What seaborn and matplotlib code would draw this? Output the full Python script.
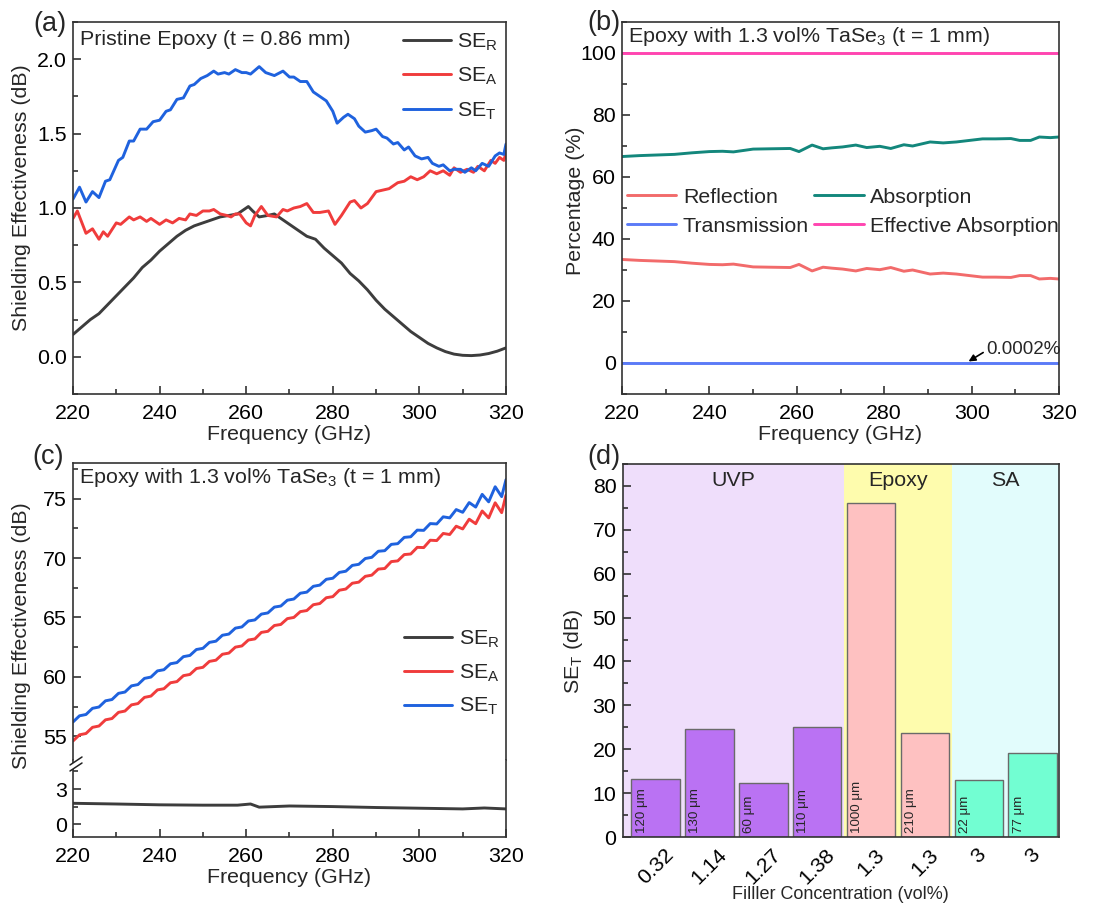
import numpy as np
import pandas as pd
import matplotlib
matplotlib.use("Agg")
import matplotlib.pyplot as plt
import seaborn as sns
from matplotlib.ticker import MultipleLocator
from matplotlib.lines import Line2D
from matplotlib.patches import Polygon

# ---------------------------------------------------------------- data
# (a) pristine epoxy, t = 0.86 mm
freq_a_r = [220, 222, 224, 226, 228, 230, 232, 234, 236, 238, 240, 242, 244, 246, 248, 250,
            252, 254, 256, 258, 259.5, 260.5, 261.5, 263, 265, 266.5, 268, 270, 272, 274, 276,
            278, 280, 282, 284, 286, 288, 290, 292, 294, 296, 298, 300, 302, 304, 306, 308,
            310, 312, 314, 316, 318, 320]
se_r_pristine = [0.15, 0.20, 0.25, 0.29, 0.35, 0.41, 0.47, 0.53, 0.60, 0.65, 0.71, 0.76, 0.81,
                 0.85, 0.88, 0.90, 0.92, 0.94, 0.95, 0.96, 0.99, 1.01, 0.98, 0.94, 0.95, 0.96,
                 0.93, 0.89, 0.85, 0.81, 0.79, 0.73, 0.68, 0.63, 0.56, 0.51, 0.45, 0.38, 0.32,
                 0.27, 0.22, 0.17, 0.13, 0.09, 0.06, 0.035, 0.018, 0.01, 0.008, 0.012, 0.022,
                 0.038, 0.06]

freq_a_a = [220, 221, 223, 224.5, 226, 227, 228, 230, 231, 233, 234, 235.5, 237, 238, 240,
            241.5, 243, 244.5, 246, 247, 248.5, 250, 251.5, 252.5, 254, 255.5, 256.5, 257.5,
            258.5, 260, 261, 262, 263.5, 265, 267, 268.5, 269.5, 271, 272.5, 274, 275.5, 277,
            279, 280.5, 282, 284, 285, 286.5, 288, 290, 291.5, 293, 295, 296.5, 298, 299.5,
            301, 302.5, 304, 305.5, 307, 308, 309.5, 311, 312.5, 313.5, 315, 316.5, 317.5,
            318.5, 319.5, 320]
se_a_pristine = [0.93, 0.98, 0.83, 0.86, 0.79, 0.84, 0.81, 0.90, 0.89, 0.94, 0.92, 0.94, 0.91,
                 0.93, 0.89, 0.92, 0.90, 0.93, 0.92, 0.96, 0.95, 0.98, 0.98, 0.99, 0.96, 0.95,
                 0.94, 0.96, 0.96, 0.90, 0.88, 0.95, 1.01, 0.95, 0.94, 0.99, 0.98, 1.00, 1.01,
                 1.03, 0.97, 0.97, 0.98, 0.89, 0.95, 1.04, 1.05, 1.00, 1.03, 1.11, 1.12, 1.13,
                 1.17, 1.18, 1.21, 1.19, 1.21, 1.25, 1.23, 1.25, 1.22, 1.27, 1.24, 1.26, 1.24,
                 1.28, 1.25, 1.32, 1.30, 1.34, 1.32, 1.37]

freq_a_t = [220, 221.5, 223, 224.5, 226, 227.5, 228.5, 230.5, 231.5, 233, 234, 235.5, 237,
            238.5, 240, 241.5, 242.5, 244, 245.5, 247, 248, 249.5, 251, 252.5, 253.5, 255, 256,
            257.5, 259, 260, 261, 263, 264.5, 266.5, 268.5, 270, 271, 272.5, 274, 275.5, 277,
            278.5, 280, 281, 282.5, 283.5, 285, 286, 287.5, 289, 290, 291.5, 292.5, 294, 295,
            296.5, 297.5, 299, 300.5, 302, 303, 304.5, 305.5, 307, 308, 309.5, 310.5, 312, 313,
            314.5, 316, 317.5, 318.5, 319.5, 320]
se_t_pristine = [1.06, 1.14, 1.04, 1.11, 1.07, 1.18, 1.19, 1.32, 1.34, 1.45, 1.45, 1.53, 1.53,
                 1.58, 1.59, 1.65, 1.66, 1.73, 1.74, 1.82, 1.83, 1.87, 1.89, 1.92, 1.90, 1.91,
                 1.90, 1.93, 1.91, 1.91, 1.90, 1.95, 1.91, 1.89, 1.92, 1.88, 1.88, 1.85, 1.85,
                 1.78, 1.75, 1.72, 1.65, 1.57, 1.61, 1.63, 1.60, 1.55, 1.51, 1.52, 1.53, 1.48,
                 1.47, 1.43, 1.44, 1.39, 1.41, 1.35, 1.33, 1.34, 1.30, 1.28, 1.29, 1.25, 1.26,
                 1.26, 1.24, 1.27, 1.25, 1.30, 1.28, 1.35, 1.37, 1.36, 1.43]

# (b) power balance of epoxy with 1.3 vol% TaSe3
freq_b = [220, 224, 228, 232, 236, 240, 243, 245.5, 248, 250, 254, 258.5, 260.5, 263.5, 266,
          268, 270.5, 273.5, 276, 279, 281.5, 284.5, 286.5, 290.5, 293.5, 296.5, 299.5, 302.5,
          305.5, 309, 311, 313.5, 315.5, 318, 320]
absorption = [66.6, 66.9, 67.1, 67.3, 67.8, 68.2, 68.3, 68.1, 68.6, 69.0, 69.1, 69.2, 68.2,
              70.3, 69.1, 69.4, 69.7, 70.3, 69.5, 69.9, 69.2, 70.4, 70.0, 71.3, 71.0, 71.3,
              71.8, 72.3, 72.3, 72.4, 71.8, 71.8, 72.9, 72.7, 72.9]
reflection = [33.4, 33.1, 32.9, 32.7, 32.2, 31.8, 31.7, 31.9, 31.4, 31.0, 30.9, 30.8, 31.8,
              29.7, 30.9, 30.6, 30.3, 29.7, 30.5, 30.1, 30.8, 29.6, 30.0, 28.7, 29.0, 28.7,
              28.2, 27.7, 27.7, 27.6, 28.2, 28.2, 27.1, 27.3, 27.1]
freq_b_flat = [220, 320]
transmission = [0.0002, 0.0002]
effective_absorption = [100.0, 100.0]

# (c) shielding of epoxy with 1.3 vol% TaSe3, t = 1 mm
freq_c = [220, 221.5, 223, 224.5, 226, 227.5, 229, 230.5, 232, 233.5, 235, 236.5, 238, 239.5,
          241, 242.5, 244, 245.5, 247, 248.5, 250, 251.5, 253, 254.5, 256, 257.5, 259, 260.5,
          262, 263.5, 265, 266.5, 268, 269.5, 271, 272.5, 274, 275.5, 277, 278.5, 280, 281.5,
          283, 284.5, 286, 287.5, 289, 290.5, 292, 293.5, 295, 296.5, 298, 299.5, 301, 302.5,
          304, 305.5, 307, 308.5, 310, 311.5, 313, 314.5, 316, 317.5, 319, 320]
se_t_tase3 = [56.20, 56.72, 56.83, 57.35, 57.46, 57.98, 58.09, 58.61, 58.72, 59.24, 59.35,
              59.87, 59.98, 60.50, 60.60, 61.10, 61.20, 61.70, 61.80, 62.30, 62.40, 62.90,
              63.00, 63.50, 63.60, 64.10, 64.20, 64.70, 64.79, 65.28, 65.38, 65.87, 65.96,
              66.45, 66.55, 67.04, 67.13, 67.62, 67.72, 68.21, 68.30, 68.79, 68.89, 69.38,
              69.47, 69.96, 70.06, 70.57, 70.62, 71.15, 71.21, 71.74, 71.79, 72.35, 72.33,
              72.90, 72.87, 73.47, 73.38, 74.08, 73.85, 74.67, 74.29, 75.36, 74.73, 76.00,
              75.17, 76.60]
se_a_tase3 = [54.60, 55.12, 55.23, 55.75, 55.86, 56.38, 56.49, 57.01, 57.12, 57.64, 57.75,
              58.27, 58.38, 58.90, 59.00, 59.50, 59.60, 60.10, 60.20, 60.70, 60.80, 61.30,
              61.40, 61.90, 62.00, 62.50, 62.60, 63.10, 63.19, 63.74, 63.83, 64.32, 64.41,
              64.90, 65.00, 65.49, 65.58, 66.07, 66.17, 66.66, 66.75, 67.29, 67.39, 67.88,
              67.97, 68.46, 68.56, 69.07, 69.12, 69.70, 69.76, 70.29, 70.34, 70.90, 70.88,
              71.50, 71.47, 72.07, 71.98, 72.68, 72.45, 73.27, 72.89, 73.96, 73.38, 74.65,
              73.82, 75.30]
freq_c_r = [220, 230, 240, 250, 258, 261, 263, 270, 280, 290, 300, 310, 315, 320]
se_r_tase3 = [1.78, 1.72, 1.65, 1.62, 1.62, 1.72, 1.45, 1.55, 1.50, 1.42, 1.36, 1.30, 1.38, 1.30]

# (d) comparison of total shielding
filler_conc = ["0.32", "1.14", "1.27", "1.38", "1.3", "1.3", "3", "3"]
se_t_compare = [13.3, 24.6, 12.3, 25.1, 76.0, 23.6, 13.0, 19.1]
thickness = ["120 μm", "130 μm", "60 μm", "110 μm", "1000 μm", "210 μm", "22 μm", "77 μm"]
matrix = ["UVP", "UVP", "UVP", "UVP", "Epoxy", "Epoxy", "SA", "SA"]

# ---------------------------------------------------------------- style
sns.set_style("ticks")
plt.rcParams["font.family"] = ["Liberation Sans", "DejaVu Sans"]
plt.rcParams["mathtext.fontset"] = "custom"
plt.rcParams["mathtext.rm"] = "Liberation Sans"
plt.rcParams["mathtext.it"] = "Liberation Sans:italic"
plt.rcParams["mathtext.bf"] = "Liberation Sans:bold"
plt.rcParams["mathtext.default"] = "regular"

FS = 15.4
C_R, C_A, C_T = "#3d3d3d", "#f03c3c", "#1f62de"
LW = 2.1

W, H = 1115, 905
fig = plt.figure(figsize=(W / 100, H / 100), dpi=100)


def rect(left, top, right, bottom):
    return [left / W, 1 - bottom / H, (right - left) / W, (bottom - top) / H]


def style(ax, xpad=7.0, ypad=4.5):
    ax.tick_params(which="both", direction="in", top=False, right=False,
                   width=1.1, color="#222222", labelcolor="black", labelsize=FS)
    ax.tick_params(axis="x", which="both", pad=xpad)
    ax.tick_params(axis="y", which="both", pad=ypad)
    ax.tick_params(which="major", length=6)
    ax.tick_params(which="minor", length=3.5)
    for s in ax.spines.values():
        s.set_visible(True)
        s.set_linewidth(1.2)
        s.set_color("#333333")


# ---------------------------------------------------------------- (a)
ax_a = fig.add_axes(rect(73, 22, 506, 394))
sns.lineplot(x=freq_a_r, y=se_r_pristine, color=C_R, lw=LW, label=r"SE$_R$", ax=ax_a)
sns.lineplot(x=freq_a_a, y=se_a_pristine, color=C_A, lw=LW, label=r"SE$_A$", ax=ax_a)
sns.lineplot(x=freq_a_t, y=se_t_pristine, color=C_T, lw=LW, label=r"SE$_T$", ax=ax_a)
ax_a.set_xlim(220, 320)
ax_a.set_ylim(-0.25, 2.25)
ax_a.xaxis.set_major_locator(MultipleLocator(20))
ax_a.xaxis.set_minor_locator(MultipleLocator(10))
ax_a.yaxis.set_major_locator(MultipleLocator(0.5))
ax_a.yaxis.set_minor_locator(MultipleLocator(0.25))
style(ax_a)
ax_a.set_xlabel("Frequency (GHz)", fontsize=FS)
ax_a.set_ylabel("Shielding Effectiveness (dB)", fontsize=FS)
ax_a.xaxis.set_label_coords(0.5, -0.108)
ax_a.xaxis.label.set_va("center")
ax_a.yaxis.set_label_coords(-0.118, 0.528)
ax_a.yaxis.label.set_va("center")
ax_a.text(0.016, 0.952, "Pristine Epoxy (t = 0.86 mm)", transform=ax_a.transAxes,
          fontsize=FS, ha="left", va="center")
ax_a.legend(loc="upper left", bbox_to_anchor=(0.762, 0.975), frameon=False, fontsize=FS,
            handlelength=2.25, handletextpad=0.3, labelspacing=0.62, borderpad=0,
            borderaxespad=0)

# ---------------------------------------------------------------- (b)
ax_b = fig.add_axes(rect(622, 22, 1059, 394))
sns.lineplot(x=freq_b, y=reflection, color="#f26b6b", lw=LW, label="Reflection", ax=ax_b)
sns.lineplot(x=freq_b_flat, y=transmission, color="#5b7bf7", lw=LW, label="Transmission", ax=ax_b)
sns.lineplot(x=freq_b, y=absorption, color="#13877c", lw=LW, label="Absorption", ax=ax_b)
sns.lineplot(x=freq_b_flat, y=effective_absorption, color="#ff45b0", lw=LW,
             label="Effective Absorption", ax=ax_b)
ax_b.set_xlim(220, 320)
ax_b.set_ylim(-10, 110)
ax_b.xaxis.set_major_locator(MultipleLocator(20))
ax_b.xaxis.set_minor_locator(MultipleLocator(10))
ax_b.yaxis.set_major_locator(MultipleLocator(20))
ax_b.yaxis.set_minor_locator(MultipleLocator(10))
style(ax_b)
ax_b.set_xlabel("Frequency (GHz)", fontsize=FS)
ax_b.set_ylabel("Percentage (%)", fontsize=FS)
ax_b.xaxis.set_label_coords(0.5, -0.108)
ax_b.xaxis.label.set_va("center")
ax_b.yaxis.set_label_coords(-0.106, 0.52)
ax_b.yaxis.label.set_va("center")
ax_b.text(0.014, 0.962, r"Epoxy with 1.3 vol% TaSe$_3$ (t = 1 mm)", transform=ax_b.transAxes,
          fontsize=FS, ha="left", va="center")
ax_b.legend(loc="center left", bbox_to_anchor=(0.012, 0.49), ncol=2, frameon=False,
            fontsize=FS, handlelength=2.3, handletextpad=0.3, labelspacing=0.45,
            columnspacing=0.25, borderpad=0, borderaxespad=0)
ax_b.annotate("0.0002%", xy=(299.3, 0.5), xytext=(303.4, 4.3), fontsize=13.5,
              ha="left", va="center",
              arrowprops=dict(arrowstyle="-|>", color="black", lw=1.2, shrinkA=0, shrinkB=0,
                              mutation_scale=10, relpos=(0, 0.45)))

# ---------------------------------------------------------------- (c) broken axis
ax_cu = fig.add_axes(rect(73, 463, 506, 760))
ax_cl = fig.add_axes(rect(73, 760, 506, 837))
for ax, show_leg in ((ax_cu, True), (ax_cl, False)):
    sns.lineplot(x=freq_c_r, y=se_r_tase3, color=C_R, lw=LW, label=r"SE$_R$", ax=ax,
                 legend=show_leg)
    sns.lineplot(x=freq_c, y=se_a_tase3, color=C_A, lw=LW, label=r"SE$_A$", ax=ax,
                 legend=show_leg)
    sns.lineplot(x=freq_c, y=se_t_tase3, color=C_T, lw=LW, label=r"SE$_T$", ax=ax,
                 legend=show_leg)
    ax.set_xlim(220, 320)
    ax.xaxis.set_major_locator(MultipleLocator(20))
    ax.xaxis.set_minor_locator(MultipleLocator(10))
    style(ax)
ax_cu.set_ylim(53, 78)
ax_cu.yaxis.set_major_locator(MultipleLocator(5))
ax_cu.yaxis.set_minor_locator(MultipleLocator(2.5))
ax_cu.spines["bottom"].set_visible(False)
ax_cu.tick_params(axis="x", which="both", bottom=False, labelbottom=False)
ax_cl.set_ylim(-1.1, 5.48)
ax_cl.yaxis.set_major_locator(MultipleLocator(3))
ax_cl.yaxis.set_minor_locator(MultipleLocator(1.5))
ax_cl.spines["top"].set_visible(False)
ax_cl.set_xlabel("Frequency (GHz)", fontsize=FS)
ax_cl.xaxis.set_label_coords(0.5, -0.526)
ax_cl.xaxis.label.set_va("center")
ax_cu.set_ylabel("")
ax_cl.set_ylabel("")
fig.text(22 / W, 1 - 636 / H, "Shielding Effectiveness (dB)", rotation=90, fontsize=FS,
         ha="center", va="center")
ax_cu.text(0.014, 0.95, r"Epoxy with 1.3 vol% TaSe$_3$ (t = 1 mm)", transform=ax_cu.transAxes,
           fontsize=FS, ha="left", va="center")
ax_cu.legend(loc="center right", bbox_to_anchor=(0.985, 0.293), frameon=False, fontsize=FS,
             handlelength=2.25, handletextpad=0.3, labelspacing=0.58, borderpad=0,
             borderaxespad=0)

# break marks on the left spine
bx, by = 76 / W, 1 - 764 / H
gap = Polygon([(bx - 6 / W, by - 7 / H), (bx + 6 / W, by + 1 / H),
               (bx + 6 / W, by + 7 / H), (bx - 6 / W, by - 1 / H)],
              closed=True, transform=fig.transFigure, facecolor="white", edgecolor="none",
              zorder=10)
fig.add_artist(gap)
for off in (-3, 3):
    fig.add_artist(Line2D([bx - 6 / W, bx + 6 / W], [by + (off - 4) / H, by + (off + 4) / H],
                          transform=fig.transFigure, color="#222222", lw=1.1, zorder=11))

# ---------------------------------------------------------------- (d)
ax_d = fig.add_axes(rect(622.7, 464, 1059, 837))
region_colors = {"UVP": "#efdefb", "Epoxy": "#fefcad", "SA": "#e2fcfc"}
bar_colors = {"UVP": "#ba72f3", "Epoxy": "#fec1c1", "SA": "#72fed2"}
ax_d.axvspan(-0.61, 3.5, color=region_colors["UVP"], lw=0, zorder=0)
ax_d.axvspan(3.5, 5.5, color=region_colors["Epoxy"], lw=0, zorder=0)
ax_d.axvspan(5.5, 7.49, color=region_colors["SA"], lw=0, zorder=0)

df_d = pd.DataFrame({"pos": range(len(filler_conc)), "se": se_t_compare, "matrix": matrix})
sns.barplot(data=df_d, x="pos", y="se", hue="matrix", palette=bar_colors, dodge=False,
            width=0.9, saturation=1, edgecolor="#6a6a6a", linewidth=1.0, legend=False,
            ax=ax_d, zorder=2)
ax_d.set_xlim(-0.61, 7.49)
ax_d.set_ylim(0, 85)
ax_d.yaxis.set_major_locator(MultipleLocator(10))
ax_d.yaxis.set_minor_locator(MultipleLocator(5))
style(ax_d, xpad=6)
ax_d.set_xticks(range(len(filler_conc)))
ax_d.set_xticklabels(filler_conc, rotation=45, ha="center", va="top")
ax_d.tick_params(axis="x", which="major", length=6)
for i, lab in enumerate(thickness):
    ax_d.text(i - 0.26, 0.9, lab, rotation=90, fontsize=9.6, ha="center", va="bottom", zorder=3)
group_centers = {"UVP": 1.45, "Epoxy": 4.5, "SA": 6.5}
for name, xc in group_centers.items():
    ax_d.text(xc, 81.3, name, fontsize=FS, ha="center", va="center", zorder=3)
ax_d.set_xlabel("Filller Concentration (vol%)", fontsize=13)
ax_d.set_ylabel(r"SE$_T$ (dB)", fontsize=FS)
ax_d.xaxis.set_label_coords(0.5, -0.155)
ax_d.xaxis.label.set_va("center")
ax_d.yaxis.set_label_coords(-0.113, 0.499)
ax_d.yaxis.label.set_va("center")

# ---------------------------------------------------------------- panel tags
for tag, (px, py) in {"(a)": (50, 24), "(b)": (604, 23), "(c)": (48, 457),
                      "(d)": (604, 457)}.items():
    fig.text(px / W, 1 - py / H, tag, fontsize=19.5, ha="center", va="center")

fig.savefig("out.png", dpi=100)
